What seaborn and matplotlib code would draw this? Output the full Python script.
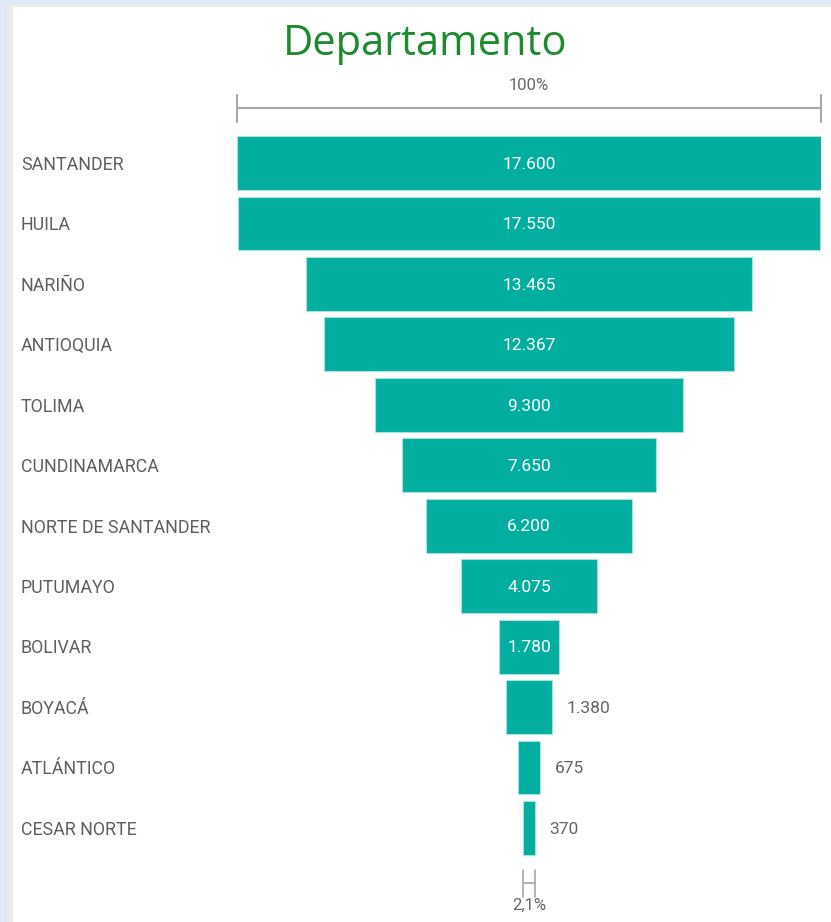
import numpy as np
import pandas as pd
import matplotlib.pyplot as plt
import matplotlib.transforms as mtransforms
from matplotlib.patches import Rectangle
import seaborn as sns

# datos del funnel
departamentos = ["SANTANDER", "HUILA", "NARIÑO", "ANTIOQUIA", "TOLIMA", "CUNDINAMARCA",
                 "NORTE DE SANTANDER", "PUTUMAYO", "BOLIVAR", "BOYACÁ", "ATLÁNTICO", "CESAR NORTE"]
valores = [17600, 17550, 13465, 12367, 9300, 7650, 6200, 4075, 1780, 1380, 675, 370]

df = pd.DataFrame({"Departamento": departamentos, "Valor": valores})

sns.set_theme(style="white")
plt.rcParams['font.family'] = ['Roboto', 'DejaVu Sans']

W, H = 831, 922
fig = plt.figure(figsize=(W / 100, H / 100), dpi=100)
fig.patch.set_facecolor("#dfe9f8")
# panel blanco con borde gris
fig.add_artist(Rectangle((7 / W, 0), 1, 1 - 4 / H, transform=fig.transFigure,
                         facecolor="#ebebeb", edgecolor="none", zorder=0))
fig.add_artist(Rectangle((12.5 / W, 0), 1, 1 - 7 / H, transform=fig.transFigure,
                         facecolor="white", edgecolor="none", zorder=0))

top_px, bot_px = 132.8, 858.2
ax = fig.add_axes([237 / W, (H - bot_px) / H, 584 / W, (bot_px - top_px) / H])
ax.patch.set_alpha(0)

teal = "#01ae9f"
sns.barplot(data=df, x="Valor", y="Departamento", color=teal, saturation=1,
            width=0.89, edgecolor="#a6e3dc", linewidth=0.8, ax=ax)

# centrar las barras (funnel)
for p in ax.patches:
    w = p.get_width()
    p.set_x(-w / 2)

vmax = max(valores)
ax.set_xlim(-vmax / 2, vmax / 2)
ax.set_ylim(len(valores) - 0.5, -0.5)
ax.axis("off")

# etiquetas de valor
for i, v in enumerate(valores):
    txt = f"{v:,}".replace(",", ".")
    if v >= 1500:
        ax.text(0, i + 0.02, txt, color="white", ha="center", va="center", fontsize=12.5)
    else:
        ax.annotate(txt, (v / 2, i + 0.02), xytext=(10.5, 0), textcoords="offset points",
                    color="#666666", ha="left", va="center", fontsize=12.5)

# nombres de categorias
trans = mtransforms.blended_transform_factory(fig.transFigure, ax.transData)
for i, d in enumerate(departamentos):
    ax.text(21 / W, i + 0.03, d, transform=trans, color="#5f5f5f", ha="left", va="center",
            fontsize=12.8, clip_on=False)

# brackets superior e inferior
bt = mtransforms.blended_transform_factory(ax.transData, ax.transAxes)
ah = bot_px - top_px
def ypx(p):
    return (bot_px - p) / ah

gray = "#a8a8a8"
x0, x1 = -vmax / 2, vmax / 2
ax.plot([x0, x1], [ypx(108), ypx(108)], color=gray, lw=1.5, transform=bt, clip_on=False)
for x in (x0, x1):
    ax.plot([x, x], [ypx(95), ypx(122)], color=gray, lw=1.5, transform=bt, clip_on=False)
ax.text(0, ypx(85), "100%", transform=bt, ha="center", va="center", color="#666666", fontsize=12)

vmin = min(valores)
x0, x1 = -vmin / 2, vmin / 2
ax.plot([x0, x1], [ypx(883), ypx(883)], color=gray, lw=1.2, transform=bt, clip_on=False)
for x in (x0, x1):
    ax.plot([x, x], [ypx(870), ypx(897)], color=gray, lw=1.2, transform=bt, clip_on=False)
pct = f"{vmin / vmax * 100:.1f}%".replace(".", ",")
ax.text(0, ypx(905), pct, transform=bt, ha="center", va="center", color="#666666", fontsize=12)

fig.text(425 / W, 1 - 55 / H, "Departamento", color="#1e8a2f", ha="center", va="baseline",
         fontsize=30, family=["Open Sans", "DejaVu Sans"])

fig.savefig("out.png", dpi=100, facecolor=fig.get_facecolor())
